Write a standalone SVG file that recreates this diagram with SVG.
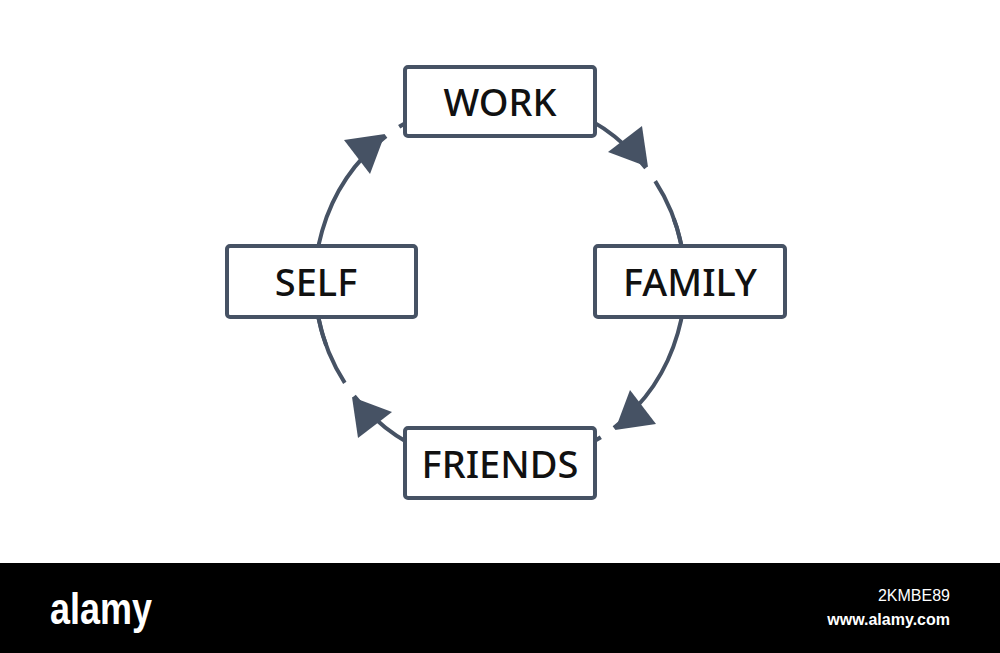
<svg xmlns="http://www.w3.org/2000/svg" width="1000" height="653" viewBox="0 0 1000 653">
<style>
.arc{fill:none;stroke:#465264;stroke-width:4}
.ah{fill:#465264}
.box{fill:#fff;stroke:#465264;stroke-width:4}
.lbl{font-family:"Noto Sans","DejaVu Sans",sans-serif;font-weight:500;font-size:38px;fill:#111;text-anchor:middle}
</style>
<rect width="1000" height="653" fill="#fff"/>
<g id="connectors">
<path class="arc" d="M436.7,108.2 A185,185 0 0 1 645.8,168.1 M655.2,181.2 A185,185 0 0 1 682.2,314.1"/>
<path class="arc" d="M673.8,218.7 A185,185 0 0 1 613.9,427.8 M600.8,437.2 A185,185 0 0 1 467.9,464.2"/>
<path class="arc" d="M563.3,455.8 A185,185 0 0 1 354.2,396.0 M344.8,382.8 A185,185 0 0 1 317.8,249.9"/>
<path class="arc" d="M326.1,345.3 A185,185 0 0 1 386.1,136.2 M399.2,126.8 A185,185 0 0 1 532.1,99.8"/>
<polygon class="ah" points="608,152 642,126 648,167"/>
<polygon class="ah" points="630,390 656,424 615,430"/>
<polygon class="ah" points="392,412 358,438 352,397"/>
<polygon class="ah" points="370,174 344,140 385,134"/>
</g>
<g id="work"><rect class="box" x="405" y="67" width="190" height="69" rx="3"/><text class="lbl" x="500" y="116">WORK</text></g>
<g id="family"><rect class="box" x="595" y="246" width="190" height="71" rx="3"/><text class="lbl" x="690" y="296">FAMILY</text></g>
<g id="friends"><rect class="box" x="405" y="428" width="190" height="70" rx="3"/><text class="lbl" x="500" y="478">FRIENDS</text></g>
<g id="self"><rect class="box" x="227" y="246" width="189" height="71" rx="3"/><text class="lbl" x="316" y="296">SELF</text></g>
<g id="watermark">
<rect x="0" y="563" width="1000" height="90" fill="#000"/>
<text x="50" y="624" font-family="Liberation Sans, sans-serif" font-weight="bold" font-size="44" fill="#fff" textLength="102" lengthAdjust="spacingAndGlyphs">alamy</text>
<text x="950" y="601" font-family="Liberation Sans, sans-serif" font-size="16" fill="#fff" text-anchor="end">2KMBE89</text>
<text x="950" y="625" font-family="Liberation Sans, sans-serif" font-weight="bold" font-size="16" fill="#fff" text-anchor="end">www.alamy.com</text>
</g>
</svg>
